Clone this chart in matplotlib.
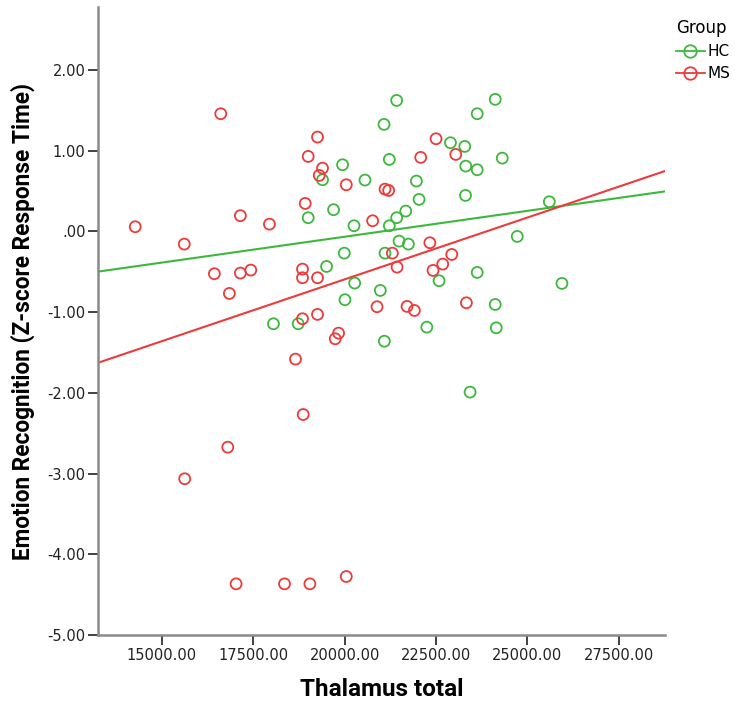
import matplotlib
matplotlib.use("Agg")
import matplotlib.pyplot as plt
import numpy as np
from matplotlib.lines import Line2D

# HC group (green)
hc_x = [19394, 19942, 19002, 19696, 19504, 18051, 18728, 21086, 21423, 24120,
        23627, 21077, 22895, 23287, 21222, 24312, 23314, 23627, 20556, 21963,
        22036, 23306, 25600, 21672, 21423, 21222, 20255, 24723, 21488, 21744,
        19989, 21104, 23627, 20273, 22583, 25946, 20976, 20008, 24120, 22248,
        24148, 23432]
hc_y = [0.64, 0.826, 0.17, 0.269, -0.434, -1.144, -1.144, -1.36, 1.623, 1.636,
        1.458, 1.326, 1.099, 1.053, 0.892, 0.908, 0.809, 0.764, 0.636, 0.624,
        0.397, 0.446, 0.368, 0.252, 0.17, 0.07, 0.07, -0.062, -0.12, -0.157,
        -0.269, -0.269, -0.508, -0.64, -0.611, -0.644, -0.731, -0.846, -0.905, -1.186,
        -1.194, -1.991]

# MS group (red)
ms_x = [16609, 19257, 19002, 19394, 19304, 18920, 14268, 17146, 17941, 15611,
        16434, 17146, 17431, 16845, 18846, 18846, 19257, 18846, 19257, 19833,
        19742, 18654, 18865, 16801, 15622, 17029, 18353, 19048, 20044, 22500,
        23040, 22081, 20044, 21104, 21203, 20765, 22331, 21305, 22930, 22683,
        21434, 22418, 20885, 21707, 21908, 23331]
ms_y = [1.458, 1.169, 0.929, 0.784, 0.694, 0.347, 0.058, 0.195, 0.09, -0.157,
        -0.524, -0.516, -0.479, -0.768, -0.467, -0.574, -0.574, -1.082, -1.028, -1.26,
        -1.33, -1.582, -2.268, -2.673, -3.064, -4.366, -4.366, -4.366, -4.275, 1.148,
        0.954, 0.917, 0.578, 0.524, 0.508, 0.132, -0.14, -0.269, -0.285, -0.405,
        -0.442, -0.483, -0.933, -0.929, -0.979, -0.884]

x_ticks = [15000, 17500, 20000, 22500, 25000, 27500]
y_ticks = [2, 1, 0, -1, -2, -3, -4, -5]

green = '#3cb93c'
red = '#ee3a3a'

fig = plt.figure(figsize=(7.38, 7.02), dpi=100)
ax = fig.add_axes([0.1328, 0.0954, 0.768, 0.8946])
xlim = (13250, 28760)
ax.set_xlim(*xlim)
ax.set_ylim(-5, 2.78)

for xs, ys, c in [(hc_x, hc_y, green), (ms_x, ms_y, red)]:
    ax.scatter(xs, ys, s=62, facecolors='none', edgecolors=c, linewidths=1.3,
               zorder=3, clip_on=False)
    # least-squares fit line per group
    k, b = np.polyfit(xs, ys, 1)
    lx = np.array(xlim)
    ax.plot(lx, k * lx + b, color=c, lw=1.5, zorder=2)

ax.set_xticks(x_ticks)
ax.set_xticklabels([f'{v:.2f}' for v in x_ticks])
ax.set_yticks(y_ticks)
ax.set_yticklabels(['.00' if v == 0 else f'{v:.2f}' for v in y_ticks])

for side in ['top', 'right']:
    ax.spines[side].set_visible(False)
for side in ['left', 'bottom']:
    ax.spines[side].set_color('#8a8a8a')
    ax.spines[side].set_linewidth(1.8)
ax.tick_params(direction='out', length=7, width=1.3, color='#333333',
               labelsize=10.5, labelcolor='#222222', pad=2)

ax.set_xlabel('Thalamus total', fontsize=17.5, fontweight='bold',
              family=['Roboto', 'DejaVu Sans'], labelpad=11)
ax.set_ylabel('Emotion Recognition (Z-score Response Time)', fontsize=16.3,
              fontweight='bold', family=['Roboto', 'DejaVu Sans'],
              labelpad=9)

handles = [Line2D([], [], color=green, marker='o', mfc='none', mec=green,
                  markersize=9, lw=1.3, mew=1.3),
           Line2D([], [], color=red, marker='o', mfc='none', mec=red,
                  markersize=9, lw=1.3, mew=1.3)]
leg = fig.legend(handles, ['HC', 'MS'], title='Group', loc='upper left',
                 bbox_to_anchor=(0.901, 0.988), frameon=False, fontsize=11,
                 title_fontsize=12, handlelength=1.9, handletextpad=0.2,
                 labelspacing=0.45, borderpad=0.2)
leg._legend_box.align = 'left'

fig.savefig('out.png', dpi=100)
